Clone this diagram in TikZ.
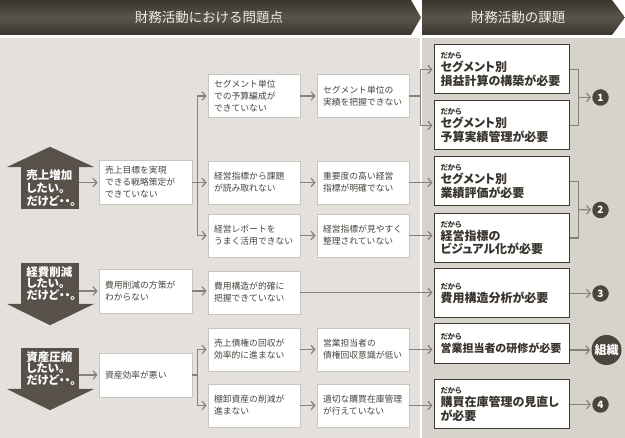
\documentclass[tikz,border=0pt]{standalone}
\usepackage{fontspec}
\setmainfont{Noto Sans CJK JP}[RawFeature={+palt}]
\newfontfamily\jpplain{Noto Sans CJK JP}
\usetikzlibrary{arrows.meta,calc}
\definecolor{hdrdark}{HTML}{3A352D}
\definecolor{hdrmid}{HTML}{5A544A}
\definecolor{leftbg}{HTML}{E4E1DC}
\definecolor{rightbg}{HTML}{D6D3CD}
\definecolor{shapec}{HTML}{57514A}
\definecolor{circc}{HTML}{4B453D}
\definecolor{linec}{HTML}{85817B}
\definecolor{lboxb}{HTML}{C8C4BE}
\definecolor{rboxb}{HTML}{3E3931}
\definecolor{ltext}{HTML}{4A453F}
\definecolor{rtext}{HTML}{38332C}
\definecolor{hdrtext}{HTML}{EEECE6}
\newcommand\dakara{{\fontsize{7.5}{9}\selectfont だから}}
\begin{document}
\begin{tikzpicture}[x=1pt,y=-1pt,
  lbox/.style={draw=lboxb, line width=0.8pt, fill=white, minimum width=92pt, minimum height=43pt,
    text width=80pt, inner xsep=6pt, align=left, text=ltext, font=\jpplain\fontsize{8.8}{12}\selectfont},
  abox/.style={lbox, minimum width=93pt, text width=81pt, minimum height=44pt},
  rbox/.style={draw=rboxb, line width=1pt, fill=white, minimum width=135pt, minimum height=49pt,
    text width=122pt, inner xsep=6.5pt, align=left, text=rtext, font=\fontsize{12}{13.2}\selectfont\bfseries},
  conn/.style={draw=linec, line width=1.2pt},
  arr/.style={conn, -{Straight Barb[length=3.8pt,width=8.5pt]}, shorten >=1pt},
  num/.style={circle, fill=circc, text=white, minimum size=16.5pt, inner sep=0pt,
    font=\fontsize{10}{10}\selectfont\bfseries},
  shpbody/.style={fill=shapec, minimum width=58pt, text width=47pt, inner xsep=5.5pt,
    inner ysep=0pt, align=left, text=white},
  uptext/.style={font=\fontsize{11.5}{13}\selectfont\bfseries},
  dntext/.style={font=\fontsize{11.5}{10.5}\selectfont\bfseries},
  hdr/.style={text=hdrtext, font=\jpplain\fontsize{13.5}{14}\selectfont},
]
\useasboundingbox (0,0) rectangle (625,438);
% backgrounds
\fill[white] (0,0) rectangle (625,438);
\fill[leftbg] (0,38) rectangle (420,438);
\fill[rightbg] (421.5,38) rectangle (625,438);
% header banners
\shade[top color=hdrdark, bottom color=hdrdark, middle color=hdrmid]
  (0,0) -- (411,0) -- (421,17.5) -- (411,35) -- (0,35) -- cycle;
\shade[top color=hdrdark, bottom color=hdrdark, middle color=hdrmid]
  (422,0) -- (612,0) -- (625,17.5) -- (612,35) -- (422,35) -- cycle;
\node[hdr] (h1) at (209,17.5) {財務活動における問題点};
\node[hdr] (h2) at (518,17.5) {財務活動の課題};

% goal shapes
\node[shpbody, uptext, minimum height=42pt] (s1) at (50,188) {売上増加\\したい。\\だけど・・。};
\fill[shapec] ($(s1.north west)+(-14,0.3)$) -- ($(s1.north)+(0,-20)$) -- ($(s1.north east)+(15,0.3)$) -- cycle;
\node[shpbody, dntext, minimum height=41pt] (s2) at (50,283.5) {経費削減\\したい。\\だけど・・。};
\fill[shapec] ($(s2.south west)+(-14,-0.3)$) -- ($(s2.south)+(0,21)$) -- ($(s2.south east)+(15,-0.3)$) -- cycle;
\node[shpbody, dntext, minimum height=41pt] (s3) at (50,368.5) {資産圧縮\\したい。\\だけど・・。};
\fill[shapec] ($(s3.south west)+(-14,-0.3)$) -- ($(s3.south)+(0,21)$) -- ($(s3.south east)+(15,-0.3)$) -- cycle;

% column A
\node[abox] (A1) at (145.5,182.5) {売上目標を実現\\できる戦略策定が\\できていない};
\node[abox] (A2) at (145.5,291) {費用削減の方策が\\わからない};
\node[abox] (A3) at (145.5,375) {資産効率が悪い};
% column B
\node[lbox] (B1) at (254,96) {セグメント単位\\での予算編成が\\できていない};
\node[lbox] (B2) at (254,182.5) {経営指標から課題\\が読み取れない};
\node[lbox] (B3) at (254,235.5) {経営レポートを\\うまく活用できない};
\node[lbox] (B4) at (254,292.5) {費用構造が的確に\\把握できていない};
\node[lbox] (B5) at (254,349.5) {売上債権の回収が\\効率的に進まない};
\node[lbox] (B6) at (254,405.5) {棚卸資産の削減が\\進まない};
% column C
\node[lbox] (C1) at (363,96) {セグメント単位の\\実績を把握できない};
\node[lbox] (C2) at (363,182.5) {重要度の高い経営\\指標が明確でない};
\node[lbox] (C3) at (363,235.5) {経営指標が見やすく\\整理されていない};
\node[lbox] (C5) at (363,349.5) {営業担当者の\\債権回収意識が低い};
\node[lbox] (C6) at (363,405.5) {適切な購買在庫管理\\が行えていない};
% column D
\node[rbox] (D1) at (501.5,69.5) {\dakara\\セグメント別\\損益計算の構築が必要};
\node[rbox] (D2) at (501.5,125.5) {\dakara\\セグメント別\\予算実績管理が必要};
\node[rbox] (D3) at (501.5,181.5) {\dakara\\セグメント別\\業績評価が必要};
\node[rbox] (D4) at (501.5,238) {\dakara\\経営指標の\\ビジュアル化が必要};
\node[rbox] (D5) at (501.5,293.5) {\dakara\\費用構造分析が必要};
\node[rbox, minimum height=40pt, font=\fontsize{11}{13}\selectfont\bfseries] (D6) at (501.5,344) {\dakara\\営業担当者の研修が必要};
\node[rbox] (D7) at (501.5,404.5) {\dakara\\購買在庫管理の見直し\\が必要};
% result circles
\node[num] (n1) at (600.5,97.5) {1};
\node[num] (n2) at (600.5,210) {2};
\node[num] (n3) at (600.5,293.5) {3};
\node[num, minimum size=30pt, font=\fontsize{12}{12}\selectfont\bfseries] (zs) at (606.5,350) {組織};
\node[num] (n4) at (600.5,404.5) {4};

% connectors: shapes to column A
\draw[arr] (s1.east |- A1.west) -- (A1.west);
\draw[arr] (s2.east |- A2.west) -- (A2.west);
\draw[arr] (s3.east |- A3.west) -- (A3.west);
% A to B
\coordinate (j1) at ($(A1.east)+(5,0)$);
\draw[conn] (A1.east) -- (j1);
\draw[arr] (j1) |- (B1.west);
\draw[arr] (j1) -- (j1 -| B2.west);
\draw[arr] (j1) |- (B3.west);
\draw[arr] (A2.east) -- (A2.east -| B4.west);
\coordinate (j2) at ($(A3.east)+(5,0)$);
\draw[conn] (A3.east) -- (j2);
\draw[arr] (j2) |- (B5.west);
\draw[arr] (j2) |- (B6.west);
% B to C
\draw[arr] (B1.east) -- (C1.west);
\draw[arr] (B2.east) -- (C2.west);
\draw[arr] (B3.east) -- (C3.west);
\draw[arr] (B5.east) -- (C5.west);
\draw[arr] (B6.east) -- (C6.west);
% C to D
\coordinate (j3) at ($(C1.east)+(11,0)$);
\draw[conn] (C1.east) -- (j3);
\draw[arr] (j3) |- (D1.west);
\draw[arr] (j3) |- (D2.west);
\draw[arr] (C2.east) -- (C2.east -| D3.west);
\draw[arr] (C3.east) -- (C3.east -| D4.west);
\draw[arr] (B4.east) -- (B4.east -| D5.west);
\draw[arr] (C5.east) -- (C5.east -| D6.west);
\draw[arr] (C6.east) -- (C6.east -| D7.west);
% D to results
\draw[conn] (D1.east) -- ++(9,0) |- (D2.east);
\draw[arr] ($(D1.east)!0.5!(D2.east)+(9,0)$) -- (n1);
\draw[conn] (D3.east) -- ++(9,0) |- (D4.east);
\draw[arr] ($(D3.east)!0.5!(D4.east)+(9,0)$) -- (n2);
\draw[arr] (D5.east) -- (n3);
\draw[arr] (D6.east |- zs) -- (zs);
\draw[arr] (D7.east) -- (n4);
\end{tikzpicture}
\end{document}
